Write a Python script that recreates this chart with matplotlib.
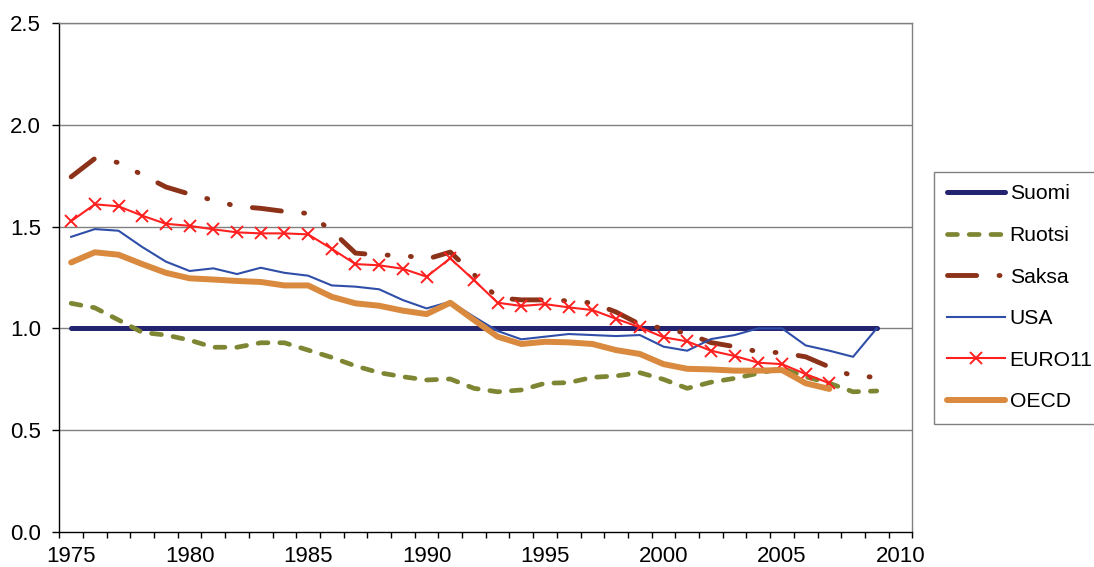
import numpy as np
import matplotlib
matplotlib.use("Agg")
import matplotlib.pyplot as plt
from matplotlib.ticker import FixedLocator, FormatStrFormatter

plt.rcParams["font.family"] = ["Liberation Sans", "DejaVu Sans"]

# Data (index relative to 1975 = 1.0 for Suomi)
years_long = list(range(1975, 2010))   # 1975-2009
years_short = list(range(1975, 2008))  # 1975-2007

suomi = [1.0] * len(years_long)
ruotsi = [1.123, 1.101, 1.041, 0.980, 0.967, 0.942, 0.907, 0.907, 0.929, 0.929,
          0.893, 0.857, 0.815, 0.782, 0.762, 0.746, 0.751, 0.705, 0.688, 0.697,
          0.730, 0.733, 0.759, 0.766, 0.782, 0.749, 0.705, 0.735, 0.754, 0.779,
          0.803, 0.762, 0.730, 0.688, 0.692]
saksa = [1.745, 1.835, 1.815, 1.755, 1.695, 1.660, 1.630, 1.600, 1.590, 1.575,
         1.565, 1.480, 1.370, 1.360, 1.360, 1.340, 1.375, 1.265, 1.150, 1.140,
         1.140, 1.135, 1.125, 1.080, 1.020, 1.000, 0.975, 0.930, 0.910, 0.885,
         0.880, 0.860, 0.810, 0.765, 0.760]
usa = [1.450, 1.488, 1.480, 1.400, 1.328, 1.282, 1.295, 1.267, 1.298, 1.273,
       1.259, 1.211, 1.205, 1.192, 1.139, 1.098, 1.131, 1.057, 0.987, 0.946,
       0.959, 0.972, 0.967, 0.962, 0.967, 0.910, 0.890, 0.947, 0.967, 1.000,
       1.000, 0.916, 0.890, 0.860, 1.000]
euro11 = [1.527, 1.610, 1.600, 1.554, 1.514, 1.504, 1.487, 1.472, 1.467, 1.467,
          1.462, 1.391, 1.316, 1.310, 1.293, 1.254, 1.344, 1.237, 1.126, 1.110,
          1.119, 1.103, 1.090, 1.047, 1.005, 0.956, 0.936, 0.890, 0.864, 0.831,
          0.824, 0.775, 0.730]
oecd = [1.324, 1.374, 1.362, 1.316, 1.273, 1.246, 1.240, 1.233, 1.228, 1.211,
        1.211, 1.155, 1.123, 1.111, 1.087, 1.070, 1.126, 1.041, 0.959, 0.923,
        0.934, 0.931, 0.923, 0.893, 0.874, 0.824, 0.801, 0.798, 0.792, 0.792,
        0.795, 0.730, 0.702]

fig = plt.figure(figsize=(10.94, 5.67), dpi=100)
ax = fig.add_axes([59.3 / 1094, 35.3 / 567, 853 / 1094, 508.4 / 567])

# Gridlines
for v in np.arange(0.5, 2.51, 0.5):
    ax.axhline(v, color="#808080", lw=1.0, zorder=0)

ax.plot(years_long, suomi, color="#24236f", lw=3.6, label="Suomi",
        solid_capstyle="round")
ax.plot(years_long, ruotsi, color="#7f8633", lw=3.4, label="Ruotsi",
        linestyle=(0, (2.1, 2.5)), dash_capstyle="round")
ax.plot(years_long, saksa, color="#8c3219", lw=3.5, label="Saksa",
        linestyle=(0, (6.0, 4.6, 0.2, 4.6, 0.2, 4.6)), dash_capstyle="round")
ax.plot(years_long, usa, color="#2f4ea8", lw=1.5, label="USA")
ax.plot(years_short, euro11, color="#ff2020", lw=1.5, marker="x",
        markersize=8, markeredgewidth=1.4, label="EURO11")
ax.plot(years_short, oecd, color="#d98a3e", lw=4.3, label="OECD",
        solid_capstyle="round")

ax.set_xlim(1974.5, 2010.5)
ax.set_ylim(0, 2.5)

ax.set_xticks(range(1975, 2011, 5))
ax.xaxis.set_minor_locator(FixedLocator(np.arange(1974.5, 2010.6, 1.0)))
ax.tick_params(axis="x", which="major", length=0, pad=10, labelsize=16)
ax.tick_params(axis="x", which="minor", length=4, width=1, direction="out")
ax.set_yticks(np.arange(0, 2.51, 0.5))
ax.yaxis.set_major_formatter(FormatStrFormatter("%.1f"))
ax.tick_params(axis="y", length=5, width=1, direction="out", pad=8,
               labelsize=16)

ax.spines["left"].set_color("black")
ax.spines["bottom"].set_color("black")
ax.spines["top"].set_color("#808080")
ax.spines["right"].set_color("#808080")
for s in ax.spines.values():
    s.set_linewidth(1.0)

leg = ax.legend(loc="upper left", bbox_to_anchor=(934 / 1094, 1 - 171.7 / 567),
                bbox_transform=fig.transFigure, borderaxespad=0,
                fancybox=False, framealpha=1, edgecolor="#808080",
                fontsize=15.2, handlelength=2.74, handletextpad=0.24,
                labelspacing=1.07, borderpad=0.6)
leg.get_frame().set_linewidth(1.0)

fig.savefig("out.png", dpi=100)
